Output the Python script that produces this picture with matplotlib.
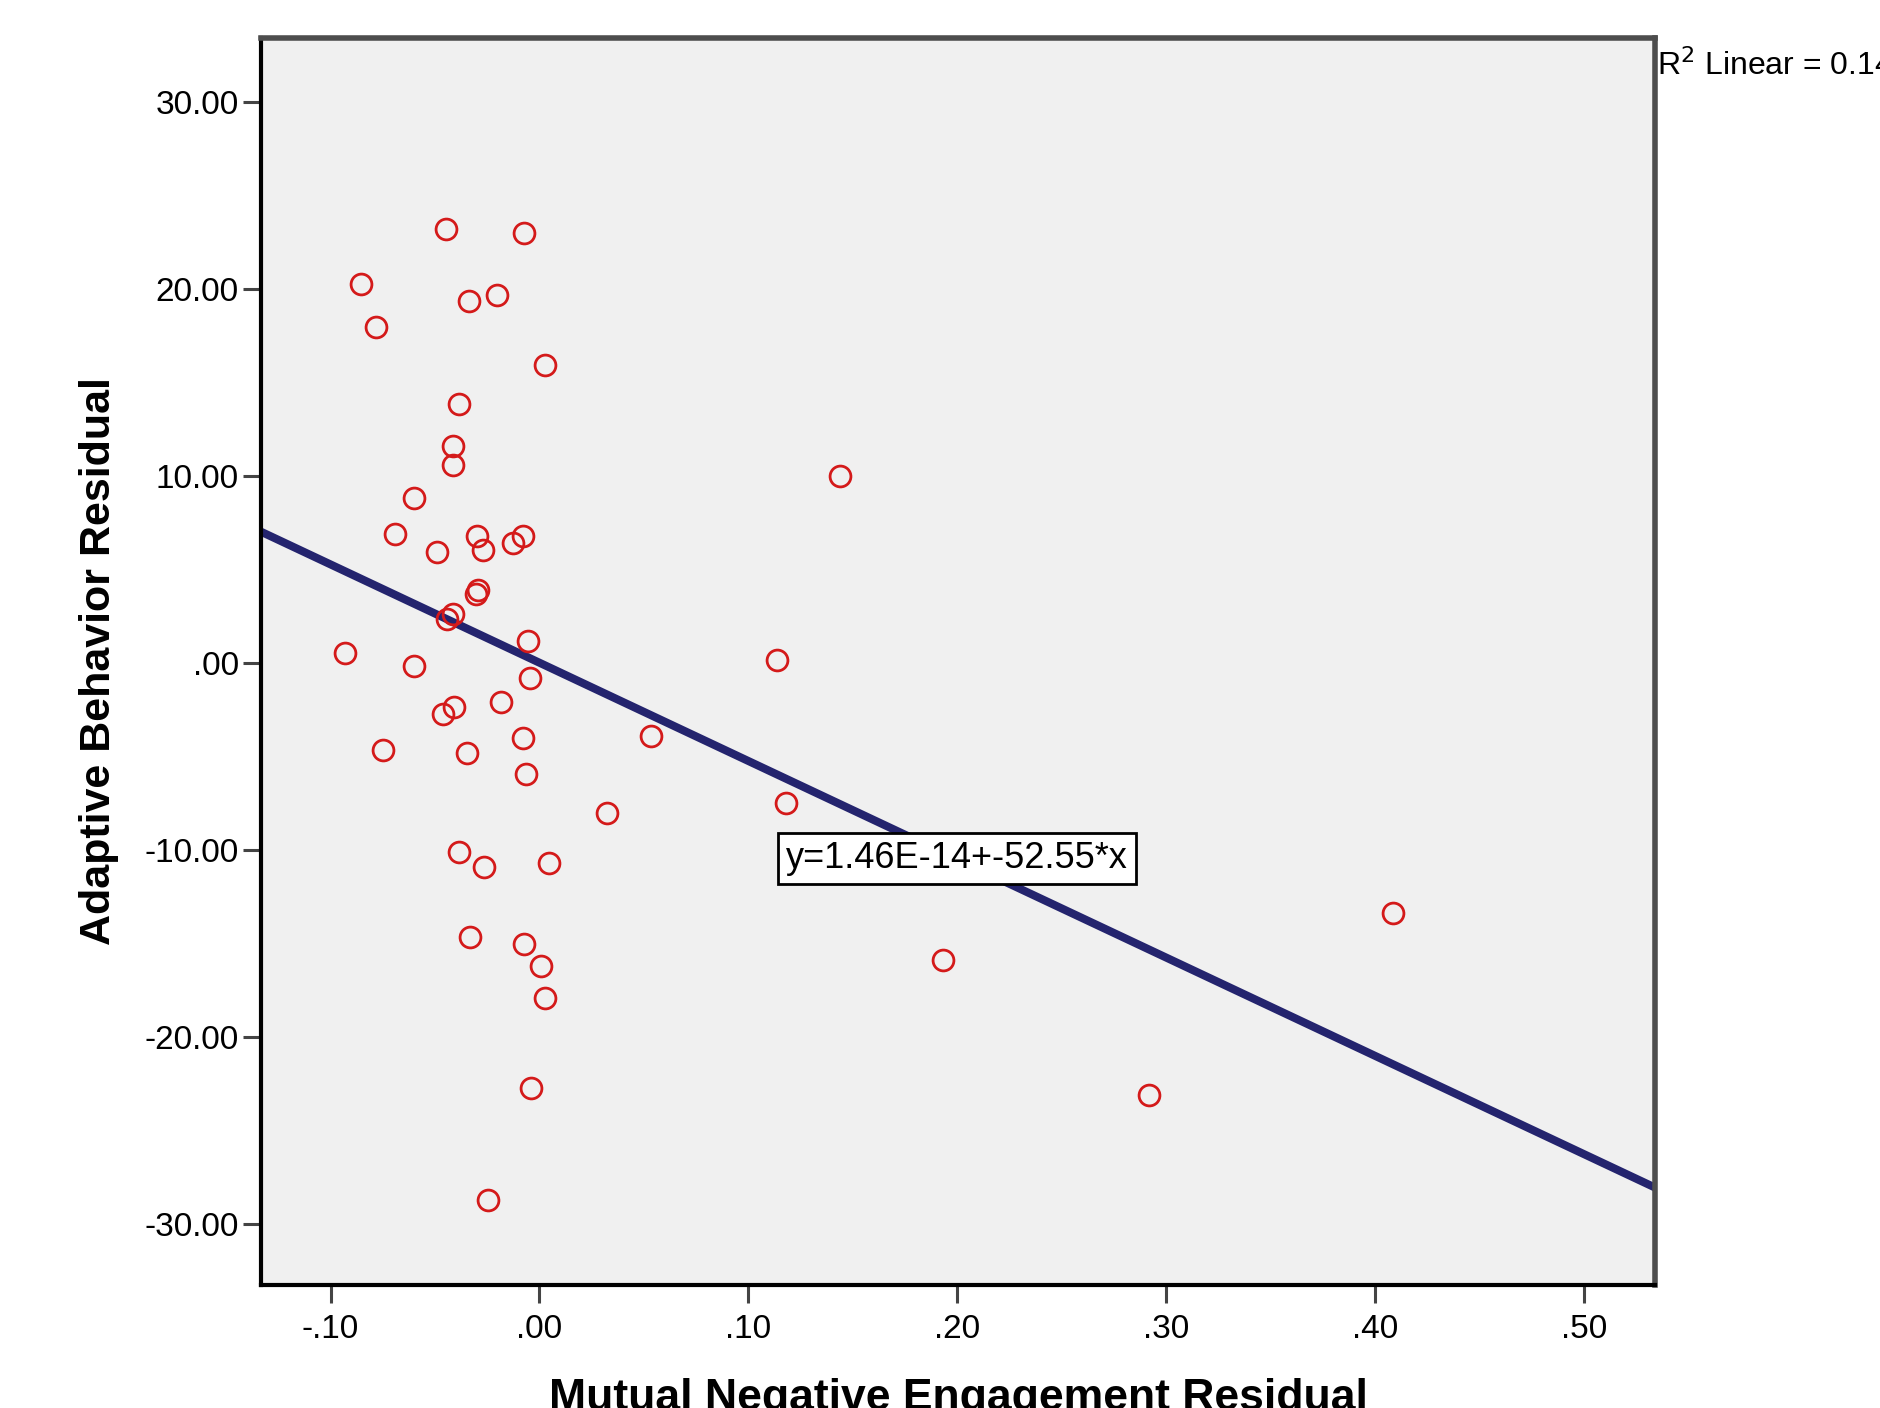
import matplotlib
matplotlib.use("Agg")
import matplotlib.pyplot as plt

plt.rcParams['font.family'] = ['Liberation Sans', 'DejaVu Sans']

# residual pairs
neg_engagement = [-0.0448, -0.0075, -0.0856, -0.0201, -0.0339, -0.0782, 0.0029, -0.0385,
                  -0.0414, -0.0414, 0.1437, -0.0598, -0.0690, -0.0299, -0.0080, -0.0126,
                  -0.0270, -0.0489, -0.0293, -0.0305, -0.0414, -0.0443, -0.0057, -0.0931,
                  0.1138, -0.0598, -0.0046, -0.0184, -0.0408, -0.0460, 0.0534, -0.0080,
                  -0.0747, -0.0345, -0.0063, 0.1178, 0.0322, -0.0385, 0.0046, -0.0264,
                  0.4086, -0.0333, -0.0075, 0.1931, 0.0006, 0.0029, -0.0040, 0.2920,
                  -0.0247]
adaptive = [23.20, 22.95, 20.26, 19.68, 19.36, 17.95, 15.90, 13.85,
            11.60, 10.58, 10.00, 8.78, 6.86, 6.79, 6.79, 6.41,
            6.03, 5.90, 3.91, 3.65, 2.63, 2.31, 1.15, 0.51,
            0.13, -0.19, -0.83, -2.12, -2.37, -2.76, -3.91, -4.04,
            -4.68, -4.81, -5.96, -7.50, -8.01, -10.13, -10.71, -10.90,
            -13.40, -14.68, -15.06, -15.90, -16.22, -17.95, -22.76, -23.14,
            -28.72]

intercept = 1.46e-14
slope = -52.55

xticks = [-0.10, 0.0, 0.10, 0.20, 0.30, 0.40, 0.50]
xtick_labels = ['-.10', '.00', '.10', '.20', '.30', '.40', '.50']
yticks = [30, 20, 10, 0, -10, -20, -30]
ytick_labels = ['30.00', '20.00', '10.00', '.00', '-10.00', '-20.00', '-30.00']

fig = plt.figure(figsize=(18.8, 14.08), dpi=100)
ax = fig.add_axes([0.1388, 0.0874, 0.7415, 0.8856])
ax.set_facecolor('#f0f0f0')

xlim = (-0.1333, 0.534)
ax.set_xlim(*xlim)
ax.set_ylim(-33.27, 33.4)

ax.plot(xlim, [intercept + slope * v for v in xlim], color='#24246e', lw=5.8,
        solid_capstyle='butt', zorder=2)
ax.plot(neg_engagement, adaptive, 'o', ms=15, mfc='none', mec='#d41a1a', mew=2.0, zorder=3)

ax.text(0.2, -10.45, 'y=1.46E-14+-52.55*x', fontsize=26, ha='center', va='center',
        bbox=dict(boxstyle='square,pad=0.22', fc='white', ec='black', lw=2), zorder=4)

ax.set_xticks(xticks)
ax.set_xticklabels(xtick_labels)
ax.set_yticks(yticks)
ax.set_yticklabels(ytick_labels)
ax.tick_params(axis='both', direction='out', length=13, width=2.2, color='#444444',
               labelsize=24)
ax.tick_params(axis='y', pad=3)
ax.tick_params(axis='x', pad=8)

for side in ['left', 'bottom']:
    ax.spines[side].set_color('black')
    ax.spines[side].set_linewidth(3)
for side in ['top', 'right']:
    ax.spines[side].set_color('#4d4d4d')
    ax.spines[side].set_linewidth(4)

ax.set_xlabel('Mutual Negative Engagement Residual', fontsize=32, fontweight='bold', labelpad=24)
ax.set_ylabel('Adaptive Behavior Residual', fontsize=31, fontweight='bold', labelpad=18)

fig.text(0.8814, 0.9467, r'R$^2$ Linear = 0.148', fontsize=23, va='baseline', ha='left')

fig.savefig('out.png', dpi=100)
